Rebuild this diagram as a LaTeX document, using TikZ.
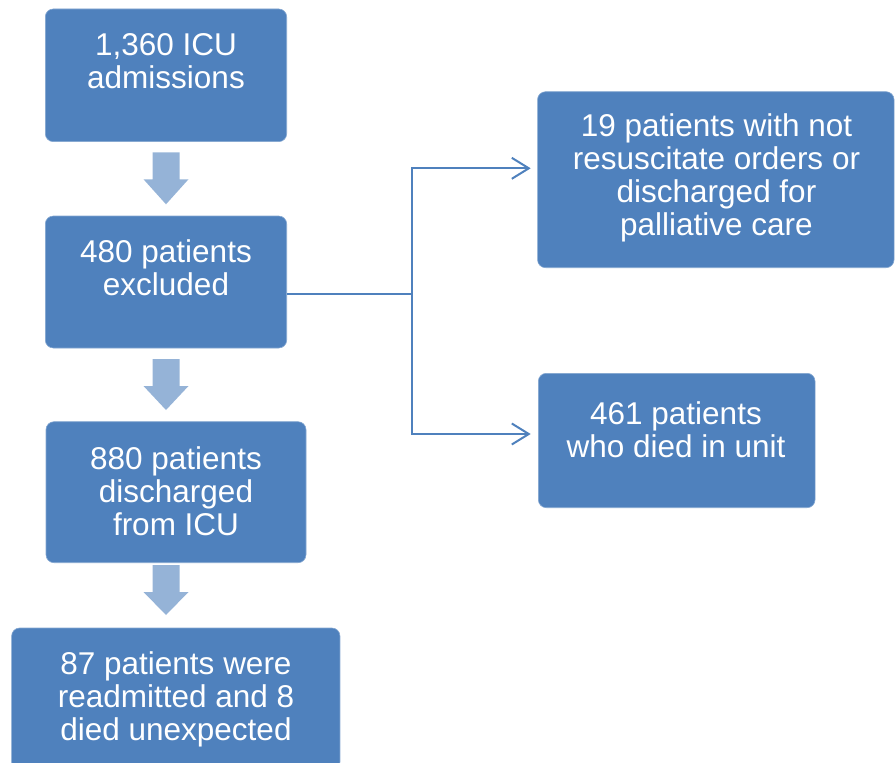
\documentclass[tikz,border=0pt]{standalone}
\usepackage{fontspec}
\setmainfont{Liberation Sans}
\usetikzlibrary{arrows.meta}
\definecolor{boxblue}{HTML}{4F81BD}
\definecolor{arrblue}{HTML}{95B3D7}
\tikzset{
  box/.style={rectangle, rounded corners=8pt, fill=boxblue, draw=boxblue!70!white, line width=0.6pt, inner sep=0pt},
  txt/.style={anchor=north, align=center, text=white, inner sep=0pt, font=\fontsize{31.5}{33}\selectfont},
  conn/.style={draw=boxblue, line width=2pt},
  tip/.style={-{Straight Barb[length=17pt,width=21pt,line width=2pt]}},
  pics/downarrow/.style={code={
    \fill[arrblue] (-13.5,0) -- (13.5,0) -- (13.5,27) -- (22.5,27) -- (0,#1) -- (-22.5,27) -- (-13.5,27) -- cycle;
  }}
}
\newcommand{\hs}{\rule{0pt}{24pt}}
\begin{document}
\begin{tikzpicture}[x=1pt,y=-1pt]
\useasboundingbox (0,0) rectangle (895,763);
% boxes
\node[box, minimum width=241.4pt, minimum height=132.7pt] (b1) at (166,75.3) {};
\node[box, minimum width=241.4pt, minimum height=132pt] (b2) at (166,282) {};
\node[box, minimum width=260pt, minimum height=141pt] (b3) at (176,492.2) {};
\node[box, minimum width=328.3pt, minimum height=142pt] (b4) at (175.8,699) {};
\node[box, minimum width=356.5pt, minimum height=176pt] (r1) at (715.8,179.7) {};
\node[box, minimum width=276.7pt, minimum height=134.4pt] (r2) at (676.7,440.5) {};
% texts
\node[txt] (t1) at (166,31) {\hs 1,360 ICU\\admissions};
\node[txt] (t2) at (166,238) {\hs 480 patients\\excluded};
\node[txt] (t3) at (176,445) {\hs 880 patients\\discharged\\from ICU};
\node[txt] (t4) at (176,650) {\hs 87 patients were\\readmitted and 8\\died unexpected};
\node[txt] (t5) at (716.5,112.7) {\hs 19 patients with not\\resuscitate orders or\\discharged for\\palliative care};
\node[txt] (t6) at (676,400) {\hs 461 patients\\who died in unit};
% block arrows
\pic at (166,152.3) {downarrow=52};
\pic at (166,359) {downarrow=51};
\pic at (166,565) {downarrow=50};
% connectors
\coordinate (j) at (411.7,294.3);
\coordinate (a1) at (530.7,168.3);
\coordinate (a2) at (530.7,434);
\draw[conn] (b2.east |- j) -- (j);
\draw[conn, tip] (j) |- (a1);
\draw[conn, tip] (j) |- (a2);
\end{tikzpicture}
\end{document}
